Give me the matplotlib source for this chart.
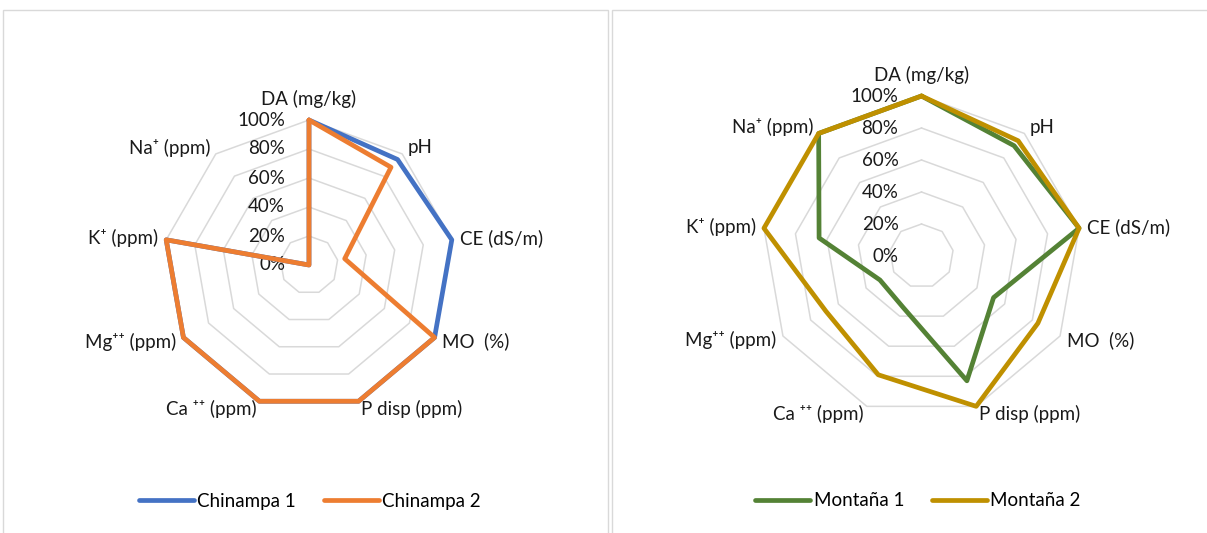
import numpy as np
import matplotlib
matplotlib.use("Agg")
import matplotlib.pyplot as plt
from matplotlib.patches import Rectangle

plt.rcParams['font.family'] = ['Lato', 'DejaVu Sans']

categories = ["DA (mg/kg)", "pH", "CE (dS/m)", "MO  (%)", "P disp (ppm)",
              "Ca \u207a\u207a (ppm)", "Mg\u207a\u207a (ppm)", "K\u207a (ppm)", "Na\u207a (ppm)"]
ring_values = [0, 20, 40, 60, 80, 100]
ring_labels = ["0%", "20%", "40%", "60%", "80%", "100%"]

chinampa_1 = [100, 95, 100, 100, 100, 100, 100, 100, 0]
chinampa_2 = [100, 88, 25, 100, 100, 100, 100, 100, 0]
montana_1 = [100, 90, 100, 52, 83, 34, 30, 65, 100]
montana_2 = [100, 94, 100, 84, 100, 79, 69, 100, 100]

W, H = 1207, 533
FS = 13.5
fig = plt.figure(figsize=(W / 100, H / 100), dpi=100)

# panel borders
for x0, x1 in [(2.5, 608), (611.5, 1212)]:
    fig.add_artist(Rectangle((x0 / W, -0.05), (x1 - x0) / W, (H - 10 + 0.05 * H) / H,
                             transform=fig.transFigure, fill=False,
                             edgecolor="#d9d9d9", lw=1.0))

n = len(categories)
theta = np.arange(n) * 2 * np.pi / n
theta_closed = np.append(theta, theta[0])


def radar(cx, cy, R, series, colors, names, legend_xy, tick_dx):
    ax = fig.add_axes([(cx - R) / W, (H - cy - R) / H, 2 * R / W, 2 * R / H],
                      projection="polar")
    ax.set_theta_zero_location("N")
    ax.set_theta_direction(-1)
    ax.set_ylim(0, 100)
    ax.grid(False)
    ax.set_xticks([])
    ax.set_yticks([])
    ax.spines["polar"].set_visible(False)
    ax.patch.set_alpha(0)
    for rv in ring_values:
        ax.plot(theta_closed, [rv] * (n + 1), color="#d9d9d9", lw=1.1,
                clip_on=False, zorder=1)
    for rv, lab in zip(ring_values, ring_labels):
        ax.annotate(lab, xy=(0, rv), xytext=(tick_dx, 0), textcoords="offset pixels",
                    ha="right", va="center", fontsize=FS, color="#1a1a1a",
                    annotation_clip=False, zorder=2)
    for th, lab in zip(theta, categories):
        s, c = np.sin(th), np.cos(th)
        pad = 8
        dx, dy = pad * s, pad * c
        if abs(s) < 0.2:
            ha = "center"
            dy += 13 if c > 0 else -13
        else:
            ha = "left" if s > 0 else "right"
        ax.annotate(lab, xy=(th, 100), xytext=(dx, dy), textcoords="offset pixels",
                    ha=ha, va="center", fontsize=FS, color="#1a1a1a",
                    annotation_clip=False)
    handles = []
    for vals, col, name in zip(series, colors, names):
        ln, = ax.plot(theta_closed, list(vals) + [vals[0]], color=col, lw=3.4,
                      solid_joinstyle="round", solid_capstyle="round",
                      clip_on=False, zorder=4, label=name)
        handles.append(ln)
    fig.legend(handles=handles, loc="center",
               bbox_to_anchor=(legend_xy[0] / W, 1 - legend_xy[1] / H),
               ncol=2, frameon=False, fontsize=FS, handlelength=2.9,
               handletextpad=0.2, columnspacing=1.5)
    return ax


radar(309, 265, 145, [chinampa_1, chinampa_2], ["#4472C4", "#ED7D31"],
      ["Chinampa 1", "Chinampa 2"], (310, 501), -24)
radar(921.5, 256, 160, [montana_1, montana_2], ["#548235", "#BF9000"],
      ["Montaña 1", "Montaña 2"], (918, 501), -23)

fig.savefig("out.png", dpi=100)
